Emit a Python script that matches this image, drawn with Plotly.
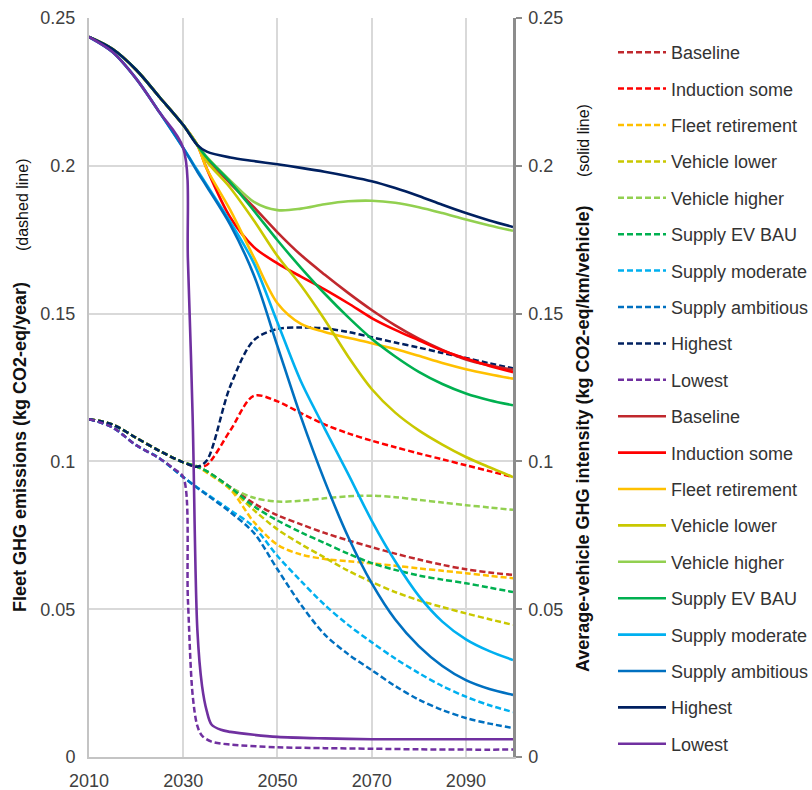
import plotly.graph_objects as go

# ---------------- data ----------------
YEARS = [2010, 2015, 2020, 2025, 2030, 2033, 2035, 2040, 2045, 2050,
         2055, 2060, 2065, 2070, 2075, 2080, 2085, 2090, 2095, 2100]
LOWEST_YEARS_F = [2010, 2015, 2020, 2025, 2028, 2030, 2031, 2032, 2033, 2034,
                  2036, 2040, 2050, 2060, 2070, 2080, 2090, 2100]
LOWEST_YEARS_I = [2010, 2015, 2020, 2025, 2030, 2031, 2032, 2033, 2034, 2035,
                  2036, 2038, 2040, 2045, 2050, 2060, 2070, 2080, 2090, 2100]

SCENARIOS = ["Baseline", "Induction some", "Fleet retirement", "Vehicle lower",
             "Vehicle higher", "Supply EV BAU", "Supply moderate",
             "Supply ambitious", "Highest", "Lowest"]
COLORS = ["#C0282D", "#FF0000", "#FFC000", "#C9C800", "#92D050",
          "#00B050", "#00B0F0", "#0070C0", "#002060", "#7030A0"]

# Fleet GHG emissions (kg CO2-eq/year), dashed, left axis
baseline_f = [0.1143, 0.1125, 0.1080, 0.1035, 0.0997, 0.0982, 0.0966, 0.0913, 0.0858, 0.0818,
              0.0787, 0.0758, 0.0733, 0.0710, 0.0688, 0.0668, 0.0650, 0.0635, 0.0624, 0.0616]
induction_f = [0.1143, 0.1125, 0.1080, 0.1035, 0.0997, 0.0982, 0.0988, 0.1105, 0.1222, 0.1203,
               0.1163, 0.1125, 0.1095, 0.1070, 0.1048, 0.1027, 0.1007, 0.0987, 0.0967, 0.0947]
fleet_f = [0.1143, 0.1125, 0.1080, 0.1035, 0.0997, 0.0982, 0.0962, 0.0905, 0.0795, 0.0718,
           0.0685, 0.0670, 0.0662, 0.0655, 0.0647, 0.0638, 0.0630, 0.0622, 0.0613, 0.0605]
vlower_f = [0.1143, 0.1125, 0.1080, 0.1035, 0.0997, 0.0982, 0.0965, 0.0908, 0.0835, 0.0770,
            0.0720, 0.0675, 0.0630, 0.0592, 0.0558, 0.0530, 0.0507, 0.0486, 0.0466, 0.0447]
vhigher_f = [0.1143, 0.1125, 0.1080, 0.1035, 0.0997, 0.0982, 0.0967, 0.0912, 0.0877, 0.0864,
             0.0867, 0.0875, 0.0882, 0.0884, 0.0879, 0.0870, 0.0861, 0.0852, 0.0844, 0.0836]
evbau_f = [0.1143, 0.1125, 0.1080, 0.1035, 0.0997, 0.0982, 0.0967, 0.0912, 0.0848, 0.0800,
           0.0760, 0.0724, 0.0688, 0.0656, 0.0633, 0.0614, 0.0600, 0.0588, 0.0573, 0.0558]
supmod_f = [0.1143, 0.1115, 0.1055, 0.1010, 0.0947, 0.0912, 0.0890, 0.0835, 0.0778, 0.0680,
            0.0595, 0.0515, 0.0447, 0.0388, 0.0333, 0.0284, 0.0240, 0.0204, 0.0175, 0.0152]
supamb_f = [0.1143, 0.1115, 0.1055, 0.1010, 0.0947, 0.0910, 0.0887, 0.0828, 0.0758, 0.0635,
            0.0515, 0.0415, 0.0348, 0.0294, 0.0240, 0.0194, 0.0159, 0.0132, 0.0113, 0.0098]
highest_f = [0.1143, 0.1125, 0.1080, 0.1035, 0.0997, 0.0982, 0.1003, 0.1255, 0.1410, 0.1448,
             0.1453, 0.1450, 0.1438, 0.1420, 0.1402, 0.1385, 0.1367, 0.1350, 0.1332, 0.1315]
lowest_f = [0.1143, 0.1115, 0.1055, 0.1010, 0.0975, 0.0947, 0.0530, 0.0210, 0.0105, 0.0072,
            0.0052, 0.0042, 0.0033, 0.0030, 0.0028, 0.0026, 0.0025, 0.0025]

# Average-vehicle GHG intensity (kg CO2-eq/km/vehicle), solid, right axis
baseline_i = [0.2436, 0.2395, 0.2325, 0.2232, 0.2138, 0.2070, 0.2025, 0.1940, 0.1860, 0.1775,
              0.1698, 0.1632, 0.1570, 0.1512, 0.1460, 0.1415, 0.1377, 0.1345, 0.1325, 0.1310]
induction_i = [0.2436, 0.2395, 0.2325, 0.2232, 0.2138, 0.2070, 0.1990, 0.1825, 0.1725, 0.1670,
               0.1625, 0.1582, 0.1535, 0.1485, 0.1445, 0.1410, 0.1375, 0.1348, 0.1323, 0.1302]
fleet_i = [0.2436, 0.2395, 0.2325, 0.2232, 0.2138, 0.2070, 0.1990, 0.1850, 0.1690, 0.1535,
           0.1465, 0.1438, 0.1418, 0.1400, 0.1380, 0.1357, 0.1333, 0.1312, 0.1295, 0.1280]
vlower_i = [0.2436, 0.2395, 0.2325, 0.2232, 0.2138, 0.2070, 0.2015, 0.1925, 0.1815, 0.1695,
            0.1595, 0.1480, 0.1355, 0.1245, 0.1165, 0.1105, 0.1057, 0.1015, 0.0980, 0.0947]
vhigher_i = [0.2436, 0.2395, 0.2325, 0.2232, 0.2138, 0.2070, 0.2030, 0.1950, 0.1878, 0.1850,
             0.1855, 0.1870, 0.1880, 0.1882, 0.1875, 0.1860, 0.1840, 0.1818, 0.1798, 0.1780]
evbau_i = [0.2436, 0.2395, 0.2325, 0.2232, 0.2138, 0.2070, 0.2028, 0.1945, 0.1848, 0.1748,
           0.1655, 0.1568, 0.1488, 0.1415, 0.1355, 0.1303, 0.1262, 0.1230, 0.1207, 0.1190]
supmod_i = [0.2436, 0.2385, 0.2295, 0.2180, 0.2060, 0.1985, 0.1935, 0.1810, 0.1670, 0.1470,
            0.1270, 0.1112, 0.0958, 0.0800, 0.0662, 0.0545, 0.0458, 0.0398, 0.0358, 0.0328]
supamb_i = [0.2436, 0.2385, 0.2295, 0.2180, 0.2060, 0.1980, 0.1930, 0.1800, 0.1630, 0.1390,
            0.1150, 0.0935, 0.0745, 0.0588, 0.0465, 0.0375, 0.0308, 0.0260, 0.0230, 0.0210]
highest_i = [0.2436, 0.2395, 0.2325, 0.2232, 0.2138, 0.2070, 0.2048, 0.2028, 0.2016, 0.2005,
             0.1993, 0.1980, 0.1965, 0.1948, 0.1925, 0.1898, 0.1868, 0.1840, 0.1815, 0.1793]
lowest_i = [0.2436, 0.2385, 0.2295, 0.2180, 0.2060, 0.1680, 0.1150, 0.0430, 0.0240, 0.0155,
            0.0110, 0.0092, 0.0085, 0.0075, 0.0068, 0.0063, 0.0060, 0.0060, 0.0060, 0.0060]

FLEET = [baseline_f, induction_f, fleet_f, vlower_f, vhigher_f, evbau_f,
         supmod_f, supamb_f, highest_f, lowest_f]
INTENSITY = [baseline_i, induction_i, fleet_i, vlower_i, vhigher_i, evbau_i,
             supmod_i, supamb_i, highest_i, lowest_i]

# ---------------- figure ----------------
FONT = "Liberation Sans, Arial, sans-serif"
fig = go.Figure()

for k, (name, col, vals) in enumerate(zip(SCENARIOS, COLORS, FLEET)):
    xs = LOWEST_YEARS_F if name == "Lowest" else YEARS
    fig.add_trace(go.Scatter(
        x=xs, y=vals, name=name, mode="lines", yaxis="y",
        legendgroup=f"f{k}",
        line=dict(color=col, width=2.5, dash="6px,3px", shape="spline", smoothing=0.9),
        hoverinfo="skip"))

for k, (name, col, vals) in enumerate(zip(SCENARIOS, COLORS, INTENSITY)):
    xs = LOWEST_YEARS_I if name == "Lowest" else YEARS
    fig.add_trace(go.Scatter(
        x=xs, y=vals, name=name, mode="lines", yaxis="y2",
        legendgroup=f"i{k}",
        line=dict(color=col, width=2.6, shape="spline", smoothing=0.9),
        hoverinfo="skip"))

fig.update_layout(
    width=812, height=790, autosize=False,
    margin=dict(l=89, r=299, t=18, b=33, pad=0, autoexpand=False),
    paper_bgcolor="white", plot_bgcolor="white",
    font=dict(family=FONT, size=18, color="#404040"),
    showlegend=True,
    legend=dict(x=(613 - 89) / 424, xanchor="left", y=1 - 16 / 739, yanchor="top",
                tracegroupgap=10, font=dict(size=18, color="#333333"),
                bgcolor="rgba(0,0,0,0)", itemwidth=48, maxheight=1.0),
    xaxis=dict(range=[2010, 2100], tick0=2010, dtick=20, showgrid=True,
               gridcolor="#d9d9d9", gridwidth=1.5, showline=True,
               linecolor="#c4c4c4", linewidth=2, zeroline=False, ticks="",
               ticklabelstandoff=6,
               tickfont=dict(size=18, color="#404040")),
    yaxis=dict(range=[0, 0.25], dtick=0.05, showgrid=True, gridcolor="#d9d9d9",
               gridwidth=1.5, showline=True, linecolor="#c4c4c4", linewidth=2,
               zeroline=False, ticks="", ticklabelstandoff=8,
               tickfont=dict(size=18, color="#404040")),
    yaxis2=dict(range=[0, 0.25], dtick=0.05, overlaying="y", side="right",
                showgrid=False, showline=True, linecolor="#8c8c8c", linewidth=2.5,
                zeroline=False, ticks="outside", ticklen=6, tickwidth=2,
                tickcolor="#8c8c8c", ticklabelstandoff=3,
                tickfont=dict(size=18, color="#404040")),
)

annots = [
    dict(x=20, y=447, text="<b>Fleet GHG emissions (kg CO2‑eq/year)</b>", size=18),
    dict(x=22, y=205, text="(dashed line)", size=16),
    dict(x=583, y=439, text="<b>Average‑vehicle GHG intensity (kg CO2‑eq/km/vehicle)</b>", size=18),
    dict(x=584, y=141, text="(solid line)", size=16),
]
for a in annots:
    fig.add_annotation(xref="paper", yref="paper",
                       x=(a["x"] - 89) / 424, y=(757 - a["y"]) / 739, text=a["text"],
                       textangle=-90, showarrow=False, xanchor="center", yanchor="middle",
                       font=dict(family=FONT, size=a["size"], color="#111111"))

fig.write_html("out.html")
